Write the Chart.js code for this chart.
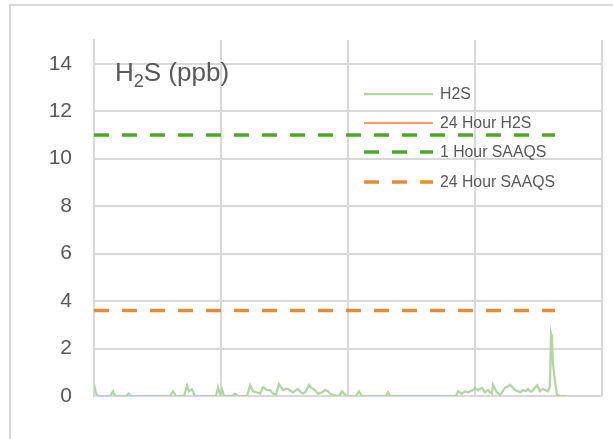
<!DOCTYPE html>
<html>
<head>
<meta charset="utf-8">
<script src="https://cdn.jsdelivr.net/npm/chart.js@4/dist/chart.umd.min.js"></script>
<style>
  html, body { margin: 0; padding: 0; background: #ffffff; }
  #frame { position: absolute; left: 9px; top: 4px; width: 640px; height: 460px;
           border: 2px solid #d9d9d9; box-sizing: border-box; }
  #wrap { position: absolute; left: 0; top: 0; width: 613px; height: 439px; }
</style>
</head>
<body>
<div id="frame"></div>
<div id="wrap"><canvas id="h2s_canvas"></canvas></div>
<script>
// time (days from start of period) and hourly-ish H2S readings, ppb
const days = [
  0, 0.13, 0.25, 1.01, 1.2, 1.32, 2.02, 2.2, 2.33, 4.79, 4.98, 5.17, 5.67, 5.86, 5.98,
  6.17, 6.36, 7.69, 7.81, 7.94, 8.06, 8.19, 8.69, 8.88, 9.07, 9.64, 9.83, 10.02, 10.27,
  10.46, 10.65, 10.9, 11.09, 11.28, 11.46, 11.65, 11.91, 12.09, 12.22, 12.41, 12.54,
  12.72, 12.85, 13.04, 13.17, 13.35, 13.54, 13.67, 13.8, 13.98, 14.11, 14.36, 14.55,
  14.74, 14.87, 15.06, 15.31, 15.5, 15.62, 15.81, 15.94, 16.5, 16.69, 16.88, 18.39,
  18.52, 18.65, 22.8, 22.93, 23.06, 23.18, 23.37, 23.56, 23.69, 23.87, 24.0, 24.19,
  24.31, 24.44, 24.63, 24.82, 24.94, 25.07, 25.13, 25.26, 25.39, 25.57, 25.7, 25.89,
  26.08, 26.2, 26.39, 26.52, 26.71, 26.83, 27.02, 27.21, 27.34, 27.46, 27.59, 27.78,
  27.91, 28.03, 28.09, 28.28, 28.41, 28.6, 28.72, 28.79, 28.85, 28.91, 29.04, 29.17,
  29.35, 29.8
];
const h2s = [
  0.5, 0.1, 0, 0, 0.2, 0, 0, 0.1, 0, 0, 0.2, 0, 0, 0.45, 0.2,
  0.28, 0, 0, 0.37, 0.05, 0.3, 0, 0, 0.1, 0, 0, 0.45, 0.2, 0.15,
  0.1, 0.37, 0.25, 0.25, 0.1, 0.05, 0.5, 0.25, 0.3, 0.3, 0.2, 0.15,
  0.25, 0.3, 0.15, 0.1, 0.2, 0.47, 0.35, 0.3, 0.2, 0.1, 0.15, 0.25,
  0.2, 0.1, 0.05, 0, 0.05, 0.2, 0.05, 0, 0, 0.2, 0, 0,
  0.17, 0, 0, 0.2, 0.15, 0.1, 0.2, 0.15, 0.2, 0.25, 0.33, 0.25,
  0.3, 0.35, 0.15, 0.25, 0.15, 0.1, 0.47, 0.3, 0.15, 0.05, 0.15, 0.35,
  0.4, 0.47, 0.35, 0.25, 0.2, 0.15, 0.25, 0.2, 0.3, 0.2, 0.2, 0.35,
  0.45, 0.3, 0.2, 0.3, 0.25, 0.2, 0.4, 2.6, 2.4, 1.4, 0.6, 0.05,
  0, 0
];
// 24 hour average series is listed in the legend but not visible on the plot
const h2s_24hr = [];

const saaqs_span = [0, 29.04];
const saaqs_1hr = 11;
const saaqs_24hr = 3.6;

const x_ticks = [0, 8, 16, 24, 32];
const y_ticks = [0, 2, 4, 6, 8, 10, 12, 14];

const text_grey = '#595959';
const grid_grey = '#d9d9d9';
const font_family = '"Liberation Sans", Arial, sans-serif';

function to_points(xs, ys) {
  return xs.map((x, i) => ({ x: x, y: ys[i] }));
}

function flat_line(value) {
  return saaqs_span.map(x => ({ x: x, y: value }));
}

/**
 * Draws the "H2S (ppb)" label with a real subscript, top left in the plot.
 */
const title_plugin = {
  id: 'h2s_title',
  afterDraw(chart) {
    const ctx = chart.ctx;
    ctx.save();
    ctx.fillStyle = text_grey;
    ctx.textBaseline = 'alphabetic';
    ctx.textAlign = 'left';
    let x = 115;
    ctx.font = '26px ' + font_family;
    ctx.fillText('H', x, 81);
    x += ctx.measureText('H').width;
    ctx.font = '18px ' + font_family;
    ctx.fillText('2', x, 87);
    x += ctx.measureText('2').width;
    ctx.font = '26px ' + font_family;
    ctx.fillText('S (ppb)', x, 81);
    ctx.restore();
  }
};

/**
 * Legend drawn inside the plot area, one row per dataset.
 */
const legend_plugin = {
  id: 'inside_legend',
  afterDraw(chart) {
    const ctx = chart.ctx;
    const rows = [94, 123, 152, 182];
    ctx.save();
    ctx.font = '15.8px ' + font_family;
    ctx.textBaseline = 'middle';
    ctx.textAlign = 'left';
    chart.data.datasets.forEach((ds, i) => {
      const y = rows[i];
      ctx.beginPath();
      ctx.strokeStyle = ds.borderColor;
      ctx.lineWidth = ds.borderWidth;
      ctx.lineCap = 'butt';
      ctx.setLineDash(ds.borderDash || []);
      ctx.moveTo(364, y);
      ctx.lineTo(433, y);
      ctx.stroke();
      ctx.setLineDash([]);
      ctx.fillStyle = text_grey;
      ctx.fillText(ds.label, 440, y + 1);
    });
    ctx.restore();
  }
};

new Chart(document.getElementById('h2s_canvas'), {
  type: 'line',
  data: {
    datasets: [
      {
        label: 'H2S',
        data: to_points(days, h2s),
        borderColor: '#b3d6a4',
        borderWidth: 2.25,
        pointRadius: 0,
        tension: 0,
        order: 3
      },
      {
        label: '24 Hour H2S',
        data: h2s_24hr,
        borderColor: '#ed7d31',
        borderWidth: 1.5,
        pointRadius: 0,
        order: 2
      },
      {
        label: '1 Hour SAAQS',
        data: flat_line(saaqs_1hr),
        borderColor: '#4ea72e',
        borderWidth: 3.5,
        borderDash: [15, 13],
        pointRadius: 0,
        order: 1
      },
      {
        label: '24 Hour SAAQS',
        data: flat_line(saaqs_24hr),
        borderColor: '#ee8a2c',
        borderWidth: 3.5,
        borderDash: [15, 13],
        pointRadius: 0,
        order: 0
      }
    ]
  },
  options: {
    responsive: true,
    maintainAspectRatio: false,
    animation: false,
    layout: { padding: { top: 40, right: 11, left: 0, bottom: 0 } },
    plugins: {
      legend: { display: false },
      tooltip: { enabled: false }
    },
    scales: {
      x: {
        type: 'linear',
        min: 0,
        max: 32,
        afterBuildTicks: (scale) => { scale.ticks = x_ticks.map(v => ({ value: v })); },
        afterFit: (scale) => { scale.height = 43; },
        ticks: { display: false },
        grid: { color: grid_grey, lineWidth: 2, drawTicks: false },
        border: { display: false }
      },
      y: {
        min: 0,
        max: 15,
        afterBuildTicks: (scale) => { scale.ticks = y_ticks.map(v => ({ value: v })); },
        afterFit: (scale) => { scale.width = 94; },
        ticks: {
          color: text_grey,
          padding: 22,
          font: { size: 21, family: font_family }
        },
        grid: { color: grid_grey, lineWidth: 2, drawTicks: false },
        border: { color: grid_grey, width: 2 }
      }
    }
  },
  plugins: [title_plugin, legend_plugin]
});
</script>
</body>
</html>
